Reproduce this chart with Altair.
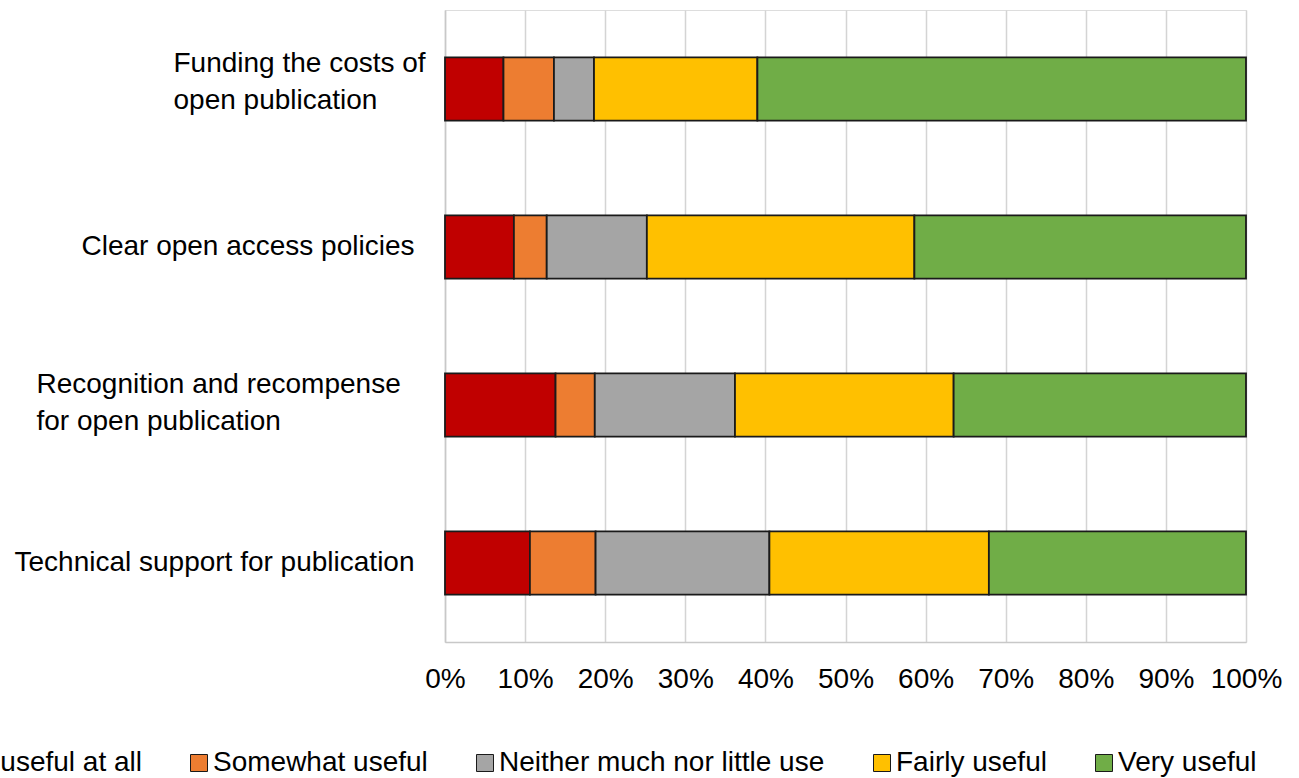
import altair as alt
import pandas as pd

# Survey items (y axis); "|" marks a line break in the axis label
items = [
    "Funding the costs of|open publication",
    "Clear open access policies",
    "Recognition and recompense|for open publication",
    "Technical support for publication",
]

# Response categories, left to right
responses = [
    "Not useful at all",
    "Somewhat useful",
    "Neither much nor little use",
    "Fairly useful",
    "Very useful",
]
colors = ["#C00000", "#ED7D31", "#A5A5A5", "#FFC000", "#70AD47"]

# Share of respondents (%) per item, in the order of `responses`
funding = [7.3, 6.3, 5.0, 20.4, 61.0]
policies = [8.6, 4.1, 12.5, 33.4, 41.4]
recognition = [13.8, 4.9, 17.5, 27.3, 36.5]
technical = [10.6, 8.2, 21.7, 27.4, 32.1]

series = [funding, policies, recognition, technical]

rows = []
for item, vals in zip(items, series):
    for k, (resp, v) in enumerate(zip(responses, vals)):
        rows.append({"item": item, "response": resp, "order": k, "share": v})
df = pd.DataFrame(rows)

FONT = "Liberation Sans"

# two-line labels are set as left-aligned blocks, single-line ones flush right
is_funding = f"datum.value === '{items[0]}'"
is_recog = f"datum.value === '{items[2]}'"
is_wrapped = "indexof(datum.value, '|') >= 0"

chart = (
    alt.Chart(df)
    .mark_bar(stroke="#1a1a1a", strokeWidth=1.8)
    .encode(
        x=alt.X(
            "share:Q",
            stack="normalize",
            scale=alt.Scale(domain=[0, 1], nice=False),
            axis=alt.Axis(
                title=None,
                format=".0%",
                values=[i / 10 for i in range(11)],
                grid=True,
                gridColor="#D4D4D4",
                gridWidth=1.5,
                domain=True,
                domainColor="#C8C8C8",
                domainWidth=1.5,
                ticks=False,
                labelFont=FONT,
                labelFontSize=28,
                labelColor="#000000",
                labelPadding=23,
                labelFlush=False,
            ),
        ),
        y=alt.Y(
            "item:N",
            sort=items,
            scale=alt.Scale(paddingInner=0.6, paddingOuter=0.3),
            axis=alt.Axis(
                title=None,
                grid=False,
                ticks=False,
                domain=True,
                domainColor="#C8C8C8",
                domainWidth=1.5,
                labelExpr="split(datum.value, '|')",
                labelFont=FONT,
                labelFontSize=28,
                labelColor="#000000",
                labelAlign={
                    "condition": {"test": is_wrapped, "value": "left"},
                    "value": "right",
                },
                labelPadding={
                    "condition": [
                        {"test": is_funding, "value": 272},
                        {"test": is_recog, "value": 409},
                    ],
                    "value": 31,
                },
                labelOffset={
                    "condition": [
                        {"test": is_funding, "value": -25},
                        {"test": is_recog, "value": -20},
                    ],
                    "value": 0,
                },
                labelLineHeight=37,
                labelLimit=0,
            ),
        ),
        color=alt.Color(
            "response:N",
            sort=responses,
            scale=alt.Scale(domain=responses, range=colors),
            legend=alt.Legend(
                title=None,
                orient="none",
                direction="horizontal",
                legendX=-524,
                legendY=739,
                symbolType="square",
                symbolSize=289,
                symbolStrokeColor="#1a1a1a",
                symbolStrokeWidth=1,
                symbolOpacity=1,
                labelFont=FONT,
                labelFontSize=28,
                labelColor="#000000",
                labelOffset=0,
                columnPadding=43,
                labelLimit=0,
            ),
        ),
        order=alt.Order("order:Q"),
    )
    .properties(
        width=801,
        height=632,
        autosize=alt.AutoSizeParams(type="none"),
        padding={"left": 445, "top": 10, "right": 53, "bottom": 136},
    )
    .configure_view(stroke=None)
    .configure(background="#FFFFFF")
)

chart.save("out.html", embed_options={"renderer": "svg", "actions": False})
